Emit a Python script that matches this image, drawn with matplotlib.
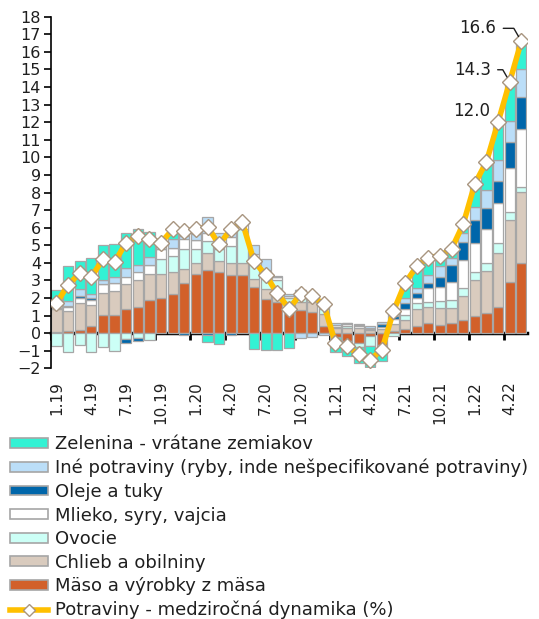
# ==========================================
# IMPORTAR LIBRERÍAS
# ==========================================

import numpy as np

import matplotlib
matplotlib.use("Agg")
import matplotlib.pyplot as plt
from matplotlib.patches import Patch
from matplotlib.lines import Line2D


# ==========================================
# DÁTA (1.19 - 5.22, príspevky v p.b.)
# ==========================================

popisky_x = ["1.19", "4.19", "7.19", "10.19", "1.20", "4.20", "7.20",
             "10.20", "1.21", "4.21", "7.21", "10.21", "1.22", "4.22"]

maso = [0.05, 0.15, 0.2, 0.4, 1.05, 1.05, 1.4, 1.5, 1.9, 2.0,
        2.2, 2.85, 3.35, 3.6, 3.5, 3.3, 3.3, 2.6, 1.95, 1.8,
        1.3, 1.33, 1.2, 0.4, -0.2, -0.47, -0.57, -0.15, -0.66, 0.1,
        0.25, 0.4, 0.55, 0.45, 0.6, 0.75, 0.95, 1.15, 1.5, 2.9,
        4.0]

chlieb = [1.3, 1.1, 1.5, 1.2, 1.25, 1.35, 1.4, 1.5, 1.45, 1.35,
          1.25, 0.8, 0.65, 0.95, 0.6, 0.7, 0.7, 0.5, 0.55, 0.75,
          0.5, 0.45, 0.55, 0.7, 0.3, 0.3, 0.3, 0.2, 0.25, 0.4,
          0.5, 1.0, 0.95, 1.0, 0.85, 1.35, 2.1, 2.4, 3.05, 3.55,
          4.05]

ovocie = [-0.75, -1.05, -0.7, -1.05, -0.8, -1.0, -0.35, -0.3, -0.4, 0.85,
          0.95, 1.15, 0.8, 0.7, 0.7, 0.95, 1.9, 0.9, 0.75, 0.45,
          0.2, 0.4, 0.35, 0.3, 0.05, 0.1, -0.2, -0.6, -0.1, -0.15,
          0.3, 0.3, 0.3, 0.4, 0.45, 0.45, 0.43, 0.42, 0.6, 0.45,
          0.28]

mlieko = [0.1, 0.25, 0.3, 0.3, 0.5, 0.45, 0.4, 0.5, 0.5, 0.6,
          0.47, 0.55, 0.5, 0.45, 0.5, 0.5, 0.3, 0.5, 0.35, 0.2,
          0.1, 0.3, 0.2, 0.35, 0.1, 0.1, 0.1, 0.05, 0.1, 0.3,
          0.35, 0.3, 0.75, 0.8, 1.0, 1.6, 1.65, 1.93, 2.27, 2.5,
          3.27]

oleje = [0.0, 0.05, 0.1, 0.1, 0.0, 0.0, -0.2, -0.15, 0.0, 0.0,
         0.0, -0.08, 0.0, -0.1, 0.0, -0.1, 0.0, 0.0, 0.0, 0.0,
         0.0, 0.0, 0.0, 0.0, 0.02, 0.05, 0.05, 0.05, 0.15, 0.2,
         0.3, 0.3, 0.3, 0.55, 0.95, 1.05, 1.3, 1.2, 1.25, 1.45,
         1.85]

ine = [0.1, 0.3, 0.4, 0.2, 0.2, 0.35, 0.5, 0.35, 0.5, 0.35,
       0.5, 0.2, 0.35, 0.9, 0.4, 0.35, 0.1, 0.5, 0.6, 0.05,
       0.15, -0.28, -0.2, -0.1, 0.1, 0.0, 0.05, 0.1, 0.15, 0.1,
       0.3, 0.25, 0.45, 0.6, 0.4, 0.5, 0.75, 1.04, 1.2, 1.2,
       1.6]

zelenina = [0.9, 1.95, 1.6, 2.05, 2.0, 1.85, 2.0, 2.1, 1.4, 0.0,
            0.5, 0.3, 0.3, -0.4, -0.6, 0.2, 0.0, -0.9, -0.95, -0.95,
            -0.85, 0.0, 0.0, 0.0, -0.9, -0.85, -0.9, -1.2, -0.85, 0.3,
            0.85, 1.25, 1.0, 0.6, 0.55, 0.5, 1.3, 1.6, 2.13, 2.25,
            1.55]

potraviny = [1.7, 2.75, 3.4, 3.2, 4.2, 4.05, 5.15, 5.5, 5.35, 5.15,
             5.9, 5.8, 5.9, 6.05, 5.05, 5.9, 6.3, 4.1, 3.3, 2.27,
             1.4, 2.2, 2.1, 1.65, -0.57, -0.75, -1.2, -1.5, -0.95, 1.25,
             2.85, 3.8, 4.3, 4.4, 4.8, 6.2, 8.5, 9.75, 12.0, 14.3,
             16.6]


# ==========================================
# NASTAVENIA
# ==========================================

plt.rcParams["font.family"] = ["DejaVu Sans"]

farba_text = "#1F1F1F"
farba_okraj = "#A6A6A6"

# poradie stohovania zdola nahor
zlozky = [
    ("Mäso a výrobky z mäsa", maso, "#D2602A"),
    ("Chlieb a obilniny", chlieb, "#D9CBBE"),
    ("Ovocie", ovocie, "#CCFFF6"),
    ("Mlieko, syry, vajcia", mlieko, "#FFFFFF"),
    ("Oleje a tuky", oleje, "#0066AA"),
    ("Iné potraviny (ryby, inde nešpecifikované potraviny)", ine, "#BBDEF8"),
    ("Zelenina - vrátane zemiakov", zelenina, "#33F2D4"),
]

x = np.arange(len(potraviny))


# ==========================================
# FIGÚRA
# ==========================================

fig = plt.figure(figsize=(5.39, 6.19), dpi=100)

ax = fig.add_axes([0.094, 0.405, 0.884, 0.568])


# ==========================================
# STĹPCE
# ==========================================

spodok_plus = np.zeros(len(x))
spodok_minus = np.zeros(len(x))

for nazov, hodnoty, farba in zlozky:
    h = np.array(hodnoty)
    spodok = np.where(h >= 0, spodok_plus, spodok_minus)
    ax.bar(
        x, h,
        bottom=spodok,
        width=0.88,
        color=farba,
        edgecolor=farba_okraj,
        linewidth=0.9,
        zorder=2
    )
    spodok_plus = spodok_plus + np.where(h > 0, h, 0)
    spodok_minus = spodok_minus + np.where(h < 0, h, 0)


# ==========================================
# ČIARA
# ==========================================

ax.plot(
    x, potraviny,
    color="#FFC000",
    linewidth=4,
    marker="D",
    markersize=8.5,
    markerfacecolor="white",
    markeredgecolor="#A89580",
    markeredgewidth=1.0,
    zorder=4
)


# ==========================================
# POPISKY HODNÔT
# ==========================================

popisy = [(38, (-8, 11), None),
          (39, (-19, 12), "angle,angleA=0,angleB=120,rad=0"),
          (40, (-25, 13), "angle,angleA=0,angleB=120,rad=0")]

for i, posun, spoj in popisy:
    sipka = None
    if spoj is not None:
        sipka = dict(arrowstyle="-", color=farba_text, lw=1,
                     shrinkA=3, shrinkB=4, connectionstyle=spoj)
    ax.annotate(
        "%.1f" % potraviny[i],
        xy=(x[i], potraviny[i]),
        xytext=posun,
        textcoords="offset pixels",
        ha="right", va="center",
        fontsize=12, color=farba_text,
        arrowprops=sipka,
        zorder=5
    )


# ==========================================
# OSI
# ==========================================

ax.set_xlim(-0.5, len(x) - 0.5)
ax.set_ylim(-2, 18)

ax.set_yticks(np.arange(-2, 19, 1))
ax.tick_params(axis="y", direction="out", length=5, width=1.2,
               labelsize=11.5, labelcolor=farba_text, pad=2)

ax.set_xticks(np.arange(0, len(x), 3))
ax.set_xticklabels(popisky_x, rotation=90, fontsize=11, color=farba_text)
ax.tick_params(axis="x", length=0, pad=9)

for s in ["top", "right", "bottom"]:
    ax.spines[s].set_visible(False)
ax.spines["left"].set_linewidth(1.2)

# nulová os s dielikmi na začiatku štvrťrokov
os_nula = ax.secondary_xaxis(0.1)
os_nula.set_xticks(np.arange(0, len(x), 3) - 0.5)
os_nula.set_xticklabels([])
os_nula.tick_params(direction="out", length=5, width=2)
os_nula.spines["bottom"].set_linewidth(2.5)
os_nula.spines["bottom"].set_zorder(3)


# ==========================================
# LEGENDA
# ==========================================

handles = []
for nazov, hodnoty, farba in reversed(zlozky):
    handles.append(Patch(facecolor=farba, edgecolor=farba_okraj,
                         linewidth=1.2, label=nazov))
handles.append(Line2D([0], [0], color="#FFC000", linewidth=4,
                      marker="D", markersize=6, markerfacecolor="white",
                      markeredgecolor="#A89580",
                      label="Potraviny - medziročná dynamika (%)"))

fig.legend(
    handles=handles,
    loc="upper left",
    bbox_to_anchor=(3 / 539, 1 - 428 / 619),
    frameon=False,
    fontsize=13,
    handlelength=2.1,
    handleheight=0.45,
    handletextpad=0.4,
    labelspacing=0.31,
    borderaxespad=0.0,
    labelcolor=farba_text
)


# ==========================================
# ULOŽIŤ
# ==========================================

plt.savefig("out.png", dpi=100)
